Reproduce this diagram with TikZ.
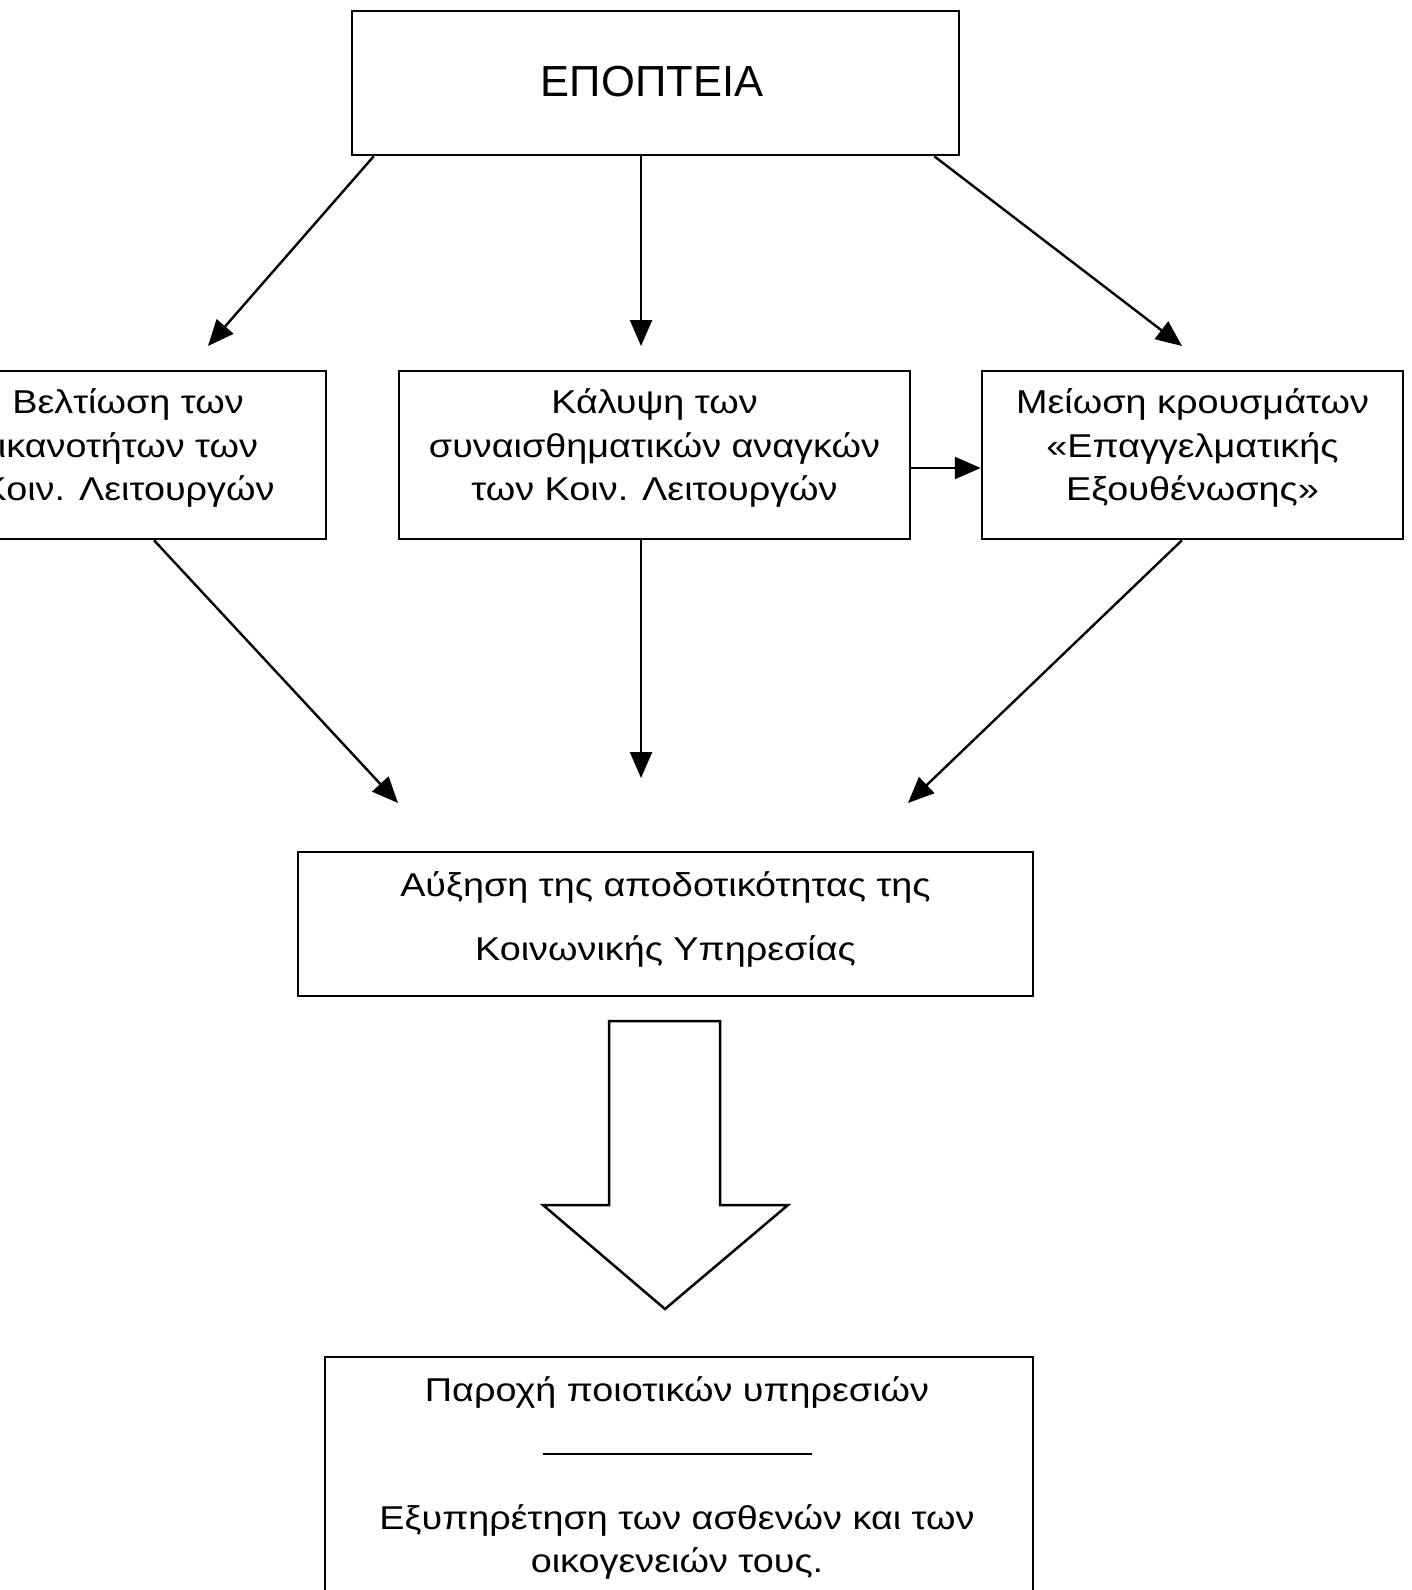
\documentclass[tikz,border=0pt]{standalone}
\usepackage{fontspec}
\setmainfont{Liberation Sans}
\newfontfamily\widefont[FakeStretch=1.145]{Liberation Sans}
\usetikzlibrary{arrows.meta}
\begin{document}
\begin{tikzpicture}[x=1pt,y=-1pt,
 box/.style={draw,line width=2.5pt,rectangle,inner sep=0pt},
 lbl/.style={align=center,font=\widefont\fontsize{33}{43.5}\selectfont,inner sep=0pt},
 conn/.style={line width=2.4pt,-{Triangle[length=26pt,width=22pt]}}]
\useasboundingbox (0,0) rectangle (1411,1590);
\fill[white] (0,0) rectangle (1411,1590);
\clip (0,0) rectangle (1411,1590);

% top
\node[box,minimum width=607pt,minimum height=144pt] (top) at (655.5,83) {};
\node[inner sep=0pt,font=\fontsize{43.5}{50}\selectfont] (ttop) at (652,81.5) {ΕΠΟΠΤΕΙΑ};

% middle row
\node[box,minimum width=412pt,minimum height=168pt] (lbox) at (120,455) {};
\node[lbl] (ltxt) at (128,448) {Βελτίωση των\\ικανοτήτων των\\Κοιν. Λειτουργών};
\node[box,minimum width=511pt,minimum height=168pt] (cbox) at (654.5,455) {};
\node[lbl] (ctxt) at (654.5,448) {Κάλυψη των\\συναισθηματικών αναγκών\\των Κοιν. Λειτουργών};
\node[box,minimum width=421pt,minimum height=168pt] (rbox) at (1192.5,455) {};
\node[lbl] (rtxt) at (1192.5,448) {Μείωση κρουσμάτων\\«Επαγγελματικής\\Εξουθένωσης»};

% Αύξηση box
\node[box,minimum width=735pt,minimum height=144pt] (abox) at (665.5,924) {};
\node[lbl,font=\widefont\fontsize{33}{64}\selectfont] (atxt) at (665.5,919) {Αύξηση της αποδοτικότητας της\\Κοινωνικής Υπηρεσίας};

% bottom box
\node[box,minimum width=708pt,minimum height=283pt] (bbox) at (679,1498.5) {};
\node[lbl] (p1) at (677,1392) {Παροχή ποιοτικών υπηρεσιών};
\coordinate (s1) at (543,1454);
\coordinate (s2) at (812,1454);
\draw[line width=2pt] (s1) -- (s2);
\node[lbl] (p2) at (677,1542) {Εξυπηρέτηση των ασθενών και των\\οικογενειών τους.};

% big arrow
\draw[line width=2.5pt,line join=miter] (609,1021) -- (720,1021) -- (720,1205) -- (788,1205) -- (665,1309) -- (543,1205) -- (609,1205) -- cycle;

% connectors from top
\coordinate (e1) at (208,346);
\coordinate (e2) at (641,346);
\coordinate (e3) at (1182,346);
\draw[conn] ([xshift=23pt]top.south west) -- (e1);
\draw[conn] ([xshift=-14.5pt]top.south) -- (e2);
\draw[conn] ([xshift=-26pt]top.south east) -- (e3);

% horizontal
\draw[conn] ([yshift=-13pt]cbox.east) -- ([yshift=-13pt]rbox.west);

% connectors to Αύξηση
\coordinate (f1) at (398,803);
\coordinate (f2) at (641,778);
\coordinate (f3) at (908,803);
\draw[conn] ([xshift=34pt]lbox.south) -- (f1);
\draw[conn] ([xshift=-13.5pt]cbox.south) -- (f2);
\draw[conn] ([xshift=-10.5pt]rbox.south) -- (f3);
\end{tikzpicture}
\end{document}
